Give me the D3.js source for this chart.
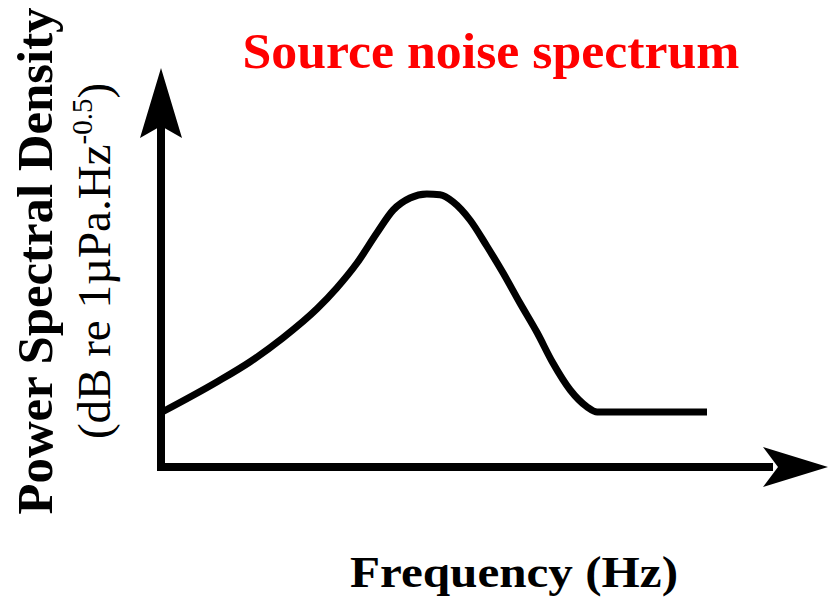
<!DOCTYPE html>
<html>
<head>
<meta charset="utf-8">
<script src="https://cdn.jsdelivr.net/npm/d3@7"></script>
<style>
  html, body { margin: 0; padding: 0; background: #fff; }
  svg { display: block; }
</style>
</head>
<body>
<svg id="chart" width="828" height="598"></svg>
<script>
// Schematic source noise spectrum (arbitrary units)
const frequency = [0.02, 0.93, 1.48, 2.03, 2.6, 2.93, 3.27, 3.6, 3.87, 4.15, 4.43, 4.65, 4.87, 5.15, 5.43, 5.7, 5.98, 6.27, 6.53, 6.82, 7.1, 7.27, 9.1];
const psd       = [1.35, 2.1, 2.6, 3.2, 3.93, 4.45, 5.08, 5.83, 6.4, 6.7, 6.8, 6.78, 6.6, 6.15, 5.5, 4.83, 4.08, 3.33, 2.58, 1.9, 1.48, 1.35, 1.35];

const titleText = "Source noise spectrum";
const xLabel = "Frequency (Hz)";
const yLabel = "Power Spectral Density";
const yUnitMain = "(dB re 1µPa.Hz";
const yUnitExp = "-0.5";
const yUnitClose = ")";

const svg = d3.select("#chart");
const serif = "'Liberation Serif', 'Times New Roman', serif";

const x = d3.scaleLinear().domain([0, 10]).range([161, 761]);
const y = d3.scaleLinear().domain([0, 10]).range([466, 66]);

// Axes drawn as thick lines with notched arrowheads
const axisW = 8;
const yTop = y(10);      // arrow tip
const xEnd = 828;        // arrow tip

svg.append("line")
  .attr("x1", x(0)).attr("x2", x(0))
  .attr("y1", y(0) + axisW / 2 + 1).attr("y2", yTop + 60)
  .attr("stroke", "#000").attr("stroke-width", axisW);
svg.append("line")
  .attr("x1", x(0) - axisW / 2).attr("x2", xEnd - 55)
  .attr("y1", y(0) + 1).attr("y2", y(0) + 1)
  .attr("stroke", "#000").attr("stroke-width", axisW);

// vertical arrowhead
const ax = x(0);
svg.append("path")
  .attr("d", `M${ax},${yTop + 2} L${ax + 21},${yTop + 72} L${ax},${yTop + 60} L${ax - 21},${yTop + 72} Z`)
  .attr("fill", "#000");
// horizontal arrowhead
const ay = y(0) + 1;
svg.append("path")
  .attr("d", `M${xEnd},${ay} L${xEnd - 65},${ay - 20} L${xEnd - 50},${ay} L${xEnd - 65},${ay + 20} Z`)
  .attr("fill", "#000");

// spectrum curve
const pts = frequency.map((f, i) => [f, psd[i]]);
const line = d3.line()
  .x(d => x(d[0]))
  .y(d => y(d[1]))
  .curve(d3.curveMonotoneX);
svg.append("path")
  .attr("d", line(pts))
  .attr("fill", "none")
  .attr("stroke", "#000")
  .attr("stroke-width", 7)
  .attr("stroke-linejoin", "round");

// title
svg.append("text")
  .attr("x", 491).attr("y", 68)
  .attr("text-anchor", "middle")
  .attr("font-family", serif)
  .attr("font-weight", "bold")
  .attr("font-size", 50)
  .attr("fill", "#ff0000")
  .attr("textLength", 497)
  .attr("lengthAdjust", "spacingAndGlyphs")
  .text(titleText);

// x axis label
svg.append("text")
  .attr("x", 514).attr("y", 587)
  .attr("text-anchor", "middle")
  .attr("font-family", serif)
  .attr("font-weight", "bold")
  .attr("font-size", 44)
  .attr("fill", "#000")
  .attr("textLength", 328)
  .attr("lengthAdjust", "spacingAndGlyphs")
  .text(xLabel);

// y axis label, two lines
svg.append("text")
  .attr("transform", "translate(52,261) rotate(-90)")
  .attr("text-anchor", "middle")
  .attr("font-family", serif)
  .attr("font-weight", "bold")
  .attr("font-size", 50)
  .attr("fill", "#000")
  .attr("textLength", 507)
  .attr("lengthAdjust", "spacingAndGlyphs")
  .text(yLabel);

const unit = svg.append("text")
  .attr("transform", "translate(110,261) rotate(-90)")
  .attr("text-anchor", "middle")
  .attr("font-family", serif)
  .attr("font-size", 47)
  .attr("fill", "#000");
unit.append("tspan").text(yUnitMain);
unit.append("tspan").attr("font-size", 29).attr("dy", -18).text(yUnitExp);
unit.append("tspan").attr("dy", 18).text(yUnitClose);
</script>
</body>
</html>
